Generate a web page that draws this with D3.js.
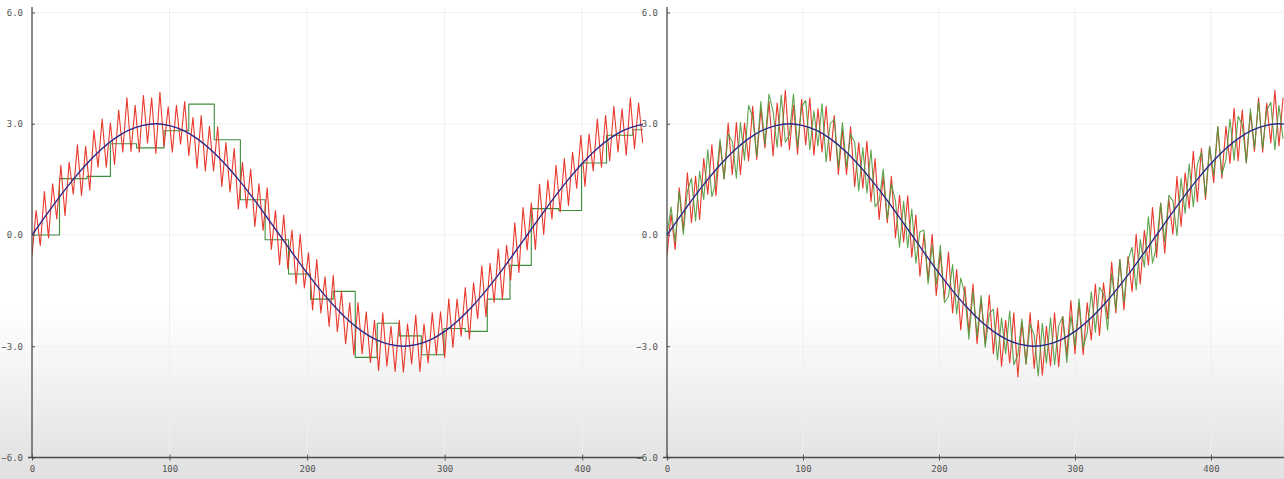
<!DOCTYPE html>
<html>
<head>
<meta charset="utf-8">
<script src="https://cdn.jsdelivr.net/npm/d3@7"></script>
<style>
  html, body { margin: 0; padding: 0; background: #fff; }
  svg { display: block; }
</style>
</head>
<body>
<script>
// two side-by-side sine plots: noisy red signal, green estimate, blue true sine

const WIDTH = 1284, HEIGHT = 479;

// axis ticks
const xTicks = [0, 100, 200, 300, 400];
const yTicks = [-6, -3, 0, 3, 6];

// blue reference curve, sampled every SINE_STEP units
const SINE_STEP = 10;
const sineVals = [0, 0.52, 1.03, 1.5, 1.93, 2.3, 2.6, 2.82, 2.95, 3.0,
  2.95, 2.82, 2.6, 2.3, 1.93, 1.5, 1.03, 0.52, 0, -0.52,
  -1.03, -1.5, -1.93, -2.3, -2.6, -2.82, -2.95, -3.0, -2.95, -2.82,
  -2.6, -2.3, -1.93, -1.5, -1.03, -0.52, 0, 0.52, 1.03, 1.5,
  1.93, 2.3, 2.6, 2.82, 2.95, 3.0, 2.95];

// noisy series, sampled every SAMPLE_STEP units
const SAMPLE_STEP = 3;
const leftRed = [-0.55, 0.66, -0.29, 1.17, -0.08, 1.38, 0.43, 1.88, 0.52, 1.96,
  1.1, 2.43, 1.06, 2.39, 1.21, 2.82, 1.83, 3.13, 1.83, 3.02,
  1.9, 3.37, 2.24, 3.7, 2.25, 3.5, 2.23, 3.76, 2.48, 3.7,
  2.2, 3.85, 2.38, 3.46, 2.23, 3.5, 2.45, 3.6, 2.14, 3.17,
  1.8, 3.22, 1.73, 2.93, 1.73, 2.92, 1.31, 2.49, 1.16, 2.33,
  0.7, 1.96, 0.72, 1.78, 0.23, 1.38, 0.12, 1.27, -0.39, 0.66,
  -0.8, 0.54, -0.91, 0.13, -1.32, 0.02, -1.43, -0.48, -2.02, -0.66,
  -2.1, -1.13, -2.46, -1.09, -2.61, -1.52, -2.93, -1.83, -3.23, -1.82,
  -3.2, -2.07, -3.44, -2.3, -3.65, -2.1, -3.53, -2.46, -3.68, -2.3,
  -3.7, -2.4, -3.48, -2.16, -3.68, -2.4, -3.45, -2.1, -3.24, -2.07,
  -3.3, -1.72, -3.03, -1.73, -2.73, -1.42, -2.81, -1.29, -2.26, -0.83,
  -2.2, -0.76, -1.82, -0.38, -1.73, -0.28, -1.22, 0.33, -1.01, 0.74,
  -0.4, 0.86, -0.39, 1.37, 0.02, 1.48, 0.43, 1.88, 0.62, 2.06,
  0.8, 2.23, 1.26, 2.69, 1.31, 2.72, 1.73, 3.13, 1.83, 3.22,
  2.0, 3.47, 2.24, 3.4, 2.15, 3.7, 2.33, 3.56, 2.48];

const rightRed = [-0.55, 0.56, -0.39, 1.27, 0.12, 1.68, 0.33, 1.58, 0.42, 2.06,
  1.1, 2.43, 1.06, 2.49, 1.51, 3.02, 1.63, 3.03, 1.63, 3.02,
  2.0, 3.47, 2.04, 3.4, 2.35, 3.6, 2.13, 3.56, 2.38, 3.9,
  2.3, 3.5, 2.18, 3.66, 2.43, 3.7, 2.15, 3.4, 2.24, 3.47,
  2.0, 3.22, 1.63, 2.83, 1.63, 2.92, 1.31, 2.49, 1.26, 2.53,
  0.9, 2.06, 0.42, 1.58, 0.33, 1.58, -0.08, 1.07, -0.19, 1.06,
  -0.6, 0.54, -1.11, 0.03, -1.22, 0.02, -1.63, -0.48, -1.72, -0.46,
  -2.1, -0.93, -2.56, -1.39, -2.61, -1.32, -2.93, -1.73, -2.93, -1.62,
  -3.2, -1.97, -3.54, -2.3, -3.45, -2.1, -3.83, -2.36, -3.48, -2.1,
  -3.6, -2.3, -3.78, -2.46, -3.53, -2.1, -3.55, -2.2, -3.24, -1.77,
  -3.2, -1.82, -3.23, -1.83, -2.83, -1.32, -2.71, -1.29, -2.26, -0.73,
  -2.1, -0.66, -2.02, -0.58, -1.53, 0.02, -1.32, 0.13, -0.81, 0.74,
  -0.6, 0.86, -0.49, 0.97, 0.02, 1.58, 0.23, 1.68, 0.72, 2.26,
  0.9, 2.33, 0.96, 2.39, 1.41, 2.92, 1.53, 2.93, 1.93, 3.42,
  2.0, 3.37, 1.94, 3.3, 2.25, 3.7, 2.23, 3.56, 2.48, 3.9,
  2.4, 3.7];

const rightGreen = [0.0, 0.76, -0.19, 1.17, 0.02, 1.18, 1.53, 0.38, 1.72, 0.96,
  2.3, 1.03, 1.46, 2.59, 1.51, 2.72, 2.53, 1.53, 3.03, 2.02,
  3.5, 3.17, 2.14, 3.6, 2.45, 3.8, 3.33, 2.36, 3.78, 2.5,
  2.7, 3.8, 2.38, 3.46, 3.63, 2.3, 3.35, 2.4, 3.54, 1.97,
  3.0, 3.12, 1.83, 3.03, 1.83, 2.72, 2.51, 1.19, 2.36, 1.13,
  2.3, 0.76, 0.92, 1.78, 0.43, 1.38, 0.92, -0.33, 0.91, -0.34,
  0.7, -0.76, 0.09, 0.13, -1.32, -0.28, -1.33, -0.28, -1.82, -1.66,
  -0.8, -2.13, -1.16, -1.59, -2.81, -1.52, -2.73, -1.63, -3.03, -2.12,
  -2.0, -3.37, -2.24, -3.2, -2.05, -3.5, -3.23, -2.26, -3.48, -2.4,
  -2.7, -3.8, -2.38, -3.46, -2.23, -3.5, -2.45, -2.2, -3.44, -2.17,
  -3.0, -1.72, -3.03, -2.63, -1.53, -2.62, -1.41, -1.59, -2.56, -1.03,
  -2.0, -0.66, -1.82, -0.68, -0.33, -1.48, -0.12, -0.87, 0.49, -0.76,
  -0.3, 0.86, -0.19, 1.07, 0.92, -0.02, 1.53, 0.58, 1.92, 0.76,
  1.9, 2.23, 1.06, 2.39, 1.61, 2.92, 1.63, 2.03, 3.13, 2.02,
  3.2, 2.97, 1.94, 3.4, 2.35, 3.6, 2.33, 3.36, 3.58, 2.3,
  3.5, 2.6];

// left panel: step estimate (start of each step, held value)
const leftStepX = [0, 20, 40, 57, 76, 96, 114, 132.5, 151.5, 169.5,
  186.5, 202.5, 219, 235, 251, 267, 283, 299.5, 315, 331,
  347.5, 363, 383, 399.5, 417.7, 436.8, 445];
const leftStepY = [0.0, 1.52, 1.58, 2.46, 2.35, 2.81, 3.53, 2.57, 0.95, -0.13,
  -1.05, -1.73, -1.52, -3.3, -2.38, -2.72, -3.23, -2.52, -2.6, -1.73,
  -0.82, 0.71, 0.66, 1.94, 2.69, 2.84, 2.84];

const svg = d3.select("body").append("svg")
    .attr("width", WIDTH)
    .attr("height", HEIGHT);

// background fades to grey toward the bottom
let defs = svg.append("defs");
let grad = defs.append("linearGradient")
    .attr("id", "bg")
    .attr("gradientUnits", "userSpaceOnUse")
    .attr("x1", 0).attr("y1", 310)
    .attr("x2", 0).attr("y2", HEIGHT);
grad.append("stop").attr("offset", 0).attr("stop-color", "#ffffff");
grad.append("stop").attr("offset", 1).attr("stop-color", "#e0e0e0");

svg.append("rect")
    .attr("width", WIDTH)
    .attr("height", HEIGHT)
    .attr("fill", "url(#bg)");

function toPoints(vals, step) {
    return vals.map(function(v, i) { return [i * step, v]; });
}

function drawPanel(p) {
    let x = d3.scaleLinear().domain([0, p.xMax]).range([p.left, p.right]);
    let y = d3.scaleLinear().domain([-6, 6]).range([457.5, 12.5]);

    let g = svg.append("g");

    // grid
    g.append("g").selectAll("line").data(yTicks.slice(1)).enter()
        .append("line")
        .attr("x1", p.left).attr("x2", p.right)
        .attr("y1", function(d) { return y(d); })
        .attr("y2", function(d) { return y(d); })
        .attr("stroke", "#efefef");
    g.append("g").selectAll("line").data(xTicks.slice(1)).enter()
        .append("line")
        .attr("x1", function(d) { return x(d); })
        .attr("x2", function(d) { return x(d); })
        .attr("y1", 8).attr("y2", 457.5)
        .attr("stroke", "#efefef");

    // clip the curves to the plot area
    defs.append("clipPath").attr("id", "clip-" + p.id)
        .append("rect")
        .attr("x", p.left).attr("y", 0)
        .attr("width", p.right - p.left).attr("height", 458);
    let plot = g.append("g").attr("clip-path", "url(#clip-" + p.id + ")");

    let line = d3.line()
        .x(function(d) { return x(d[0]); })
        .y(function(d) { return y(d[1]); });

    p.series.forEach(function(s) {
        plot.append("path")
            .datum(s.points)
            .attr("fill", "none")
            .attr("stroke", s.color)
            .attr("stroke-width", s.width)
            .attr("stroke-opacity", s.opacity || 1)
            .attr("stroke-linejoin", "round")
            .attr("d", line.curve(s.curve || d3.curveLinear));
    });

    // y axis
    let yAxis = g.append("g")
        .attr("transform", `translate(${p.left},0)`)
        .call(d3.axisLeft(y).tickValues(yTicks).tickFormat(d3.format(".1f"))
            .tickSize(3).tickSizeOuter(0).tickPadding(6));
    yAxis.select(".domain").remove();
    yAxis.selectAll(".tick line").attr("x2", 3).attr("stroke", "#555");
    yAxis.append("line")
        .attr("x1", 0).attr("x2", 0).attr("y1", 7).attr("y2", 458)
        .attr("stroke", "#4a4a4a").attr("stroke-width", 1.3);

    // x axis
    let xAxis = g.append("g")
        .attr("transform", `translate(0,457.5)`)
        .call(d3.axisBottom(x).tickValues(xTicks).tickSize(3).tickSizeOuter(0).tickPadding(5));
    xAxis.select(".domain").remove();
    xAxis.selectAll(".tick line").attr("y1", -3).attr("stroke", "#555");
    xAxis.append("line")
        .attr("x1", p.left - 4).attr("x2", p.right).attr("y1", 0).attr("y2", 0)
        .attr("stroke", "#4a4a4a").attr("stroke-width", 1.3);

    g.selectAll(".tick text")
        .attr("fill", "#555")
        .style("font-family", "'DejaVu Sans Mono', monospace")
        .style("font-size", "9px");
}

let sinePoints = toPoints(sineVals, SINE_STEP);
let leftSteps = leftStepX.map(function(v, i) { return [v, leftStepY[i]]; });

drawPanel({
    id: "left", left: 32, right: 643, xMax: 444.2,
    series: [
        { points: leftSteps, color: "#3e8e3e", width: 1.1, curve: d3.curveStepAfter },
        { points: toPoints(leftRed, SAMPLE_STEP), color: "#e8392c", width: 1.1 },
        { points: sinePoints, color: "#2a2a8c", width: 1.4, curve: d3.curveCatmullRom }
    ]
});

drawPanel({
    id: "right", left: 667, right: 1284, xMax: 453.7,
    series: [
        { points: toPoints(rightRed, SAMPLE_STEP), color: "#e8392c", width: 1.1 },
        { points: toPoints(rightGreen, SAMPLE_STEP), color: "#4c9a3c", width: 1.1, opacity: 0.9 },
        { points: sinePoints, color: "#2a2a8c", width: 1.4, curve: d3.curveCatmullRom }
    ]
});
</script>
</body>
</html>
